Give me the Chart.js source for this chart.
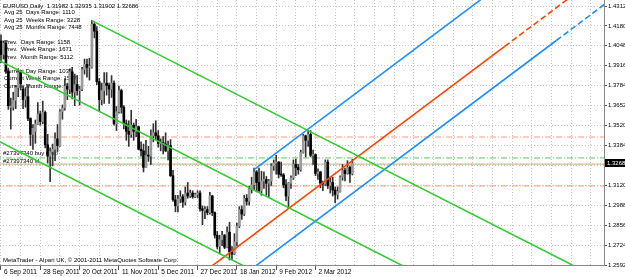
<!DOCTYPE html>
<html lang="en">
<head>
<meta charset="UTF-8">
<title>EURUSD Daily</title>
<script src="https://cdn.jsdelivr.net/npm/chart.js"></script>
<style>
  html, body { margin: 0; padding: 0; background: #fff; }
  #chart { display: block; }
</style>
</head>
<body>
<canvas id="chart" width="625" height="277"></canvas>
<script>
// one bar per trading day, bar 0 = 6 Sep 2011, last bar = 23 Mar 2012
const opens = [
  1.4080, 1.3990, 1.4065, 1.3880, 1.3640, 1.3640, 1.3685, 1.3770, 1.3870, 1.3760,
  1.3690, 1.3710, 1.3565, 1.3460, 1.3480, 1.3530, 1.3595, 1.3545, 1.3605, 1.3390,
  1.3315, 1.3345, 1.3360, 1.3430, 1.3385, 1.3610, 1.3635, 1.3780, 1.3760, 1.3875,
  1.3740, 1.3790, 1.3750, 1.3760, 1.3890, 1.3925, 1.3905, 1.3905, 1.4190, 1.4145,
  1.3810, 1.3690, 1.3750, 1.3800, 1.3785, 1.3760, 1.3800, 1.3530, 1.3610, 1.3750,
  1.3640, 1.3530, 1.3480, 1.3460, 1.3520, 1.3480, 1.3510, 1.3360, 1.3350, 1.3240,
  1.3320, 1.3315, 1.3450, 1.3470, 1.3450, 1.3400, 1.3405, 1.3395, 1.3350, 1.3385,
  1.3185, 1.3025, 1.2985, 1.3030, 1.3045, 1.3010, 1.3070, 1.3050, 1.3070, 1.3045,
  1.3060, 1.3070, 1.2965, 1.2955, 1.2960, 1.2940, 1.3050, 1.2940, 1.2790, 1.2715,
  1.2760, 1.2790, 1.2710, 1.2810, 1.2680, 1.2665, 1.2745, 1.2850, 1.2960, 1.2930,
  1.3035, 1.3015, 1.3095, 1.3125, 1.3210, 1.3140, 1.3085, 1.3150, 1.3160, 1.3135,
  1.3150, 1.3250, 1.3270, 1.3275, 1.3195, 1.3190, 1.3125, 1.3050, 1.3135, 1.3170,
  1.3260, 1.3240, 1.3225, 1.3340, 1.3450, 1.3420, 1.3460, 1.3320, 1.3325, 1.3200,
  1.3210, 1.3135, 1.3130, 1.3275, 1.3120, 1.3140, 1.3090, 1.3060, 1.3080, 1.3175,
  1.3220, 1.3200, 1.3240, 1.3198
];
const highs = [
  1.4120, 1.4080, 1.4080, 1.3900, 1.3700, 1.3740, 1.3785, 1.3895, 1.3885, 1.3780,
  1.3770, 1.3790, 1.3570, 1.3525, 1.3555, 1.3670, 1.3615, 1.3680, 1.3615, 1.3460,
  1.3370, 1.3395, 1.3470, 1.3525, 1.3625, 1.3655, 1.3830, 1.3800, 1.3895, 1.3905,
  1.3860, 1.3850, 1.3780, 1.3905, 1.3960, 1.3960, 1.3965, 1.4215, 1.4200, 1.4175,
  1.3830, 1.3800, 1.3870, 1.3870, 1.3800, 1.3850, 1.3815, 1.3645, 1.3780, 1.3760,
  1.3650, 1.3555, 1.3550, 1.3620, 1.3535, 1.3560, 1.3515, 1.3410, 1.3395, 1.3420,
  1.3380, 1.3490, 1.3530, 1.3550, 1.3485, 1.3430, 1.3445, 1.3470, 1.3415, 1.3425,
  1.3220, 1.3055, 1.3055, 1.3085, 1.3060, 1.3110, 1.3140, 1.3090, 1.3085, 1.3070,
  1.3085, 1.3085, 1.2985, 1.2980, 1.2980, 1.3075, 1.3055, 1.2945, 1.2815, 1.2790,
  1.2815, 1.2795, 1.2845, 1.2875, 1.2715, 1.2800, 1.2870, 1.2980, 1.2985, 1.3055,
  1.3060, 1.3115, 1.3175, 1.3235, 1.3220, 1.3235, 1.3215, 1.3210, 1.3180, 1.3160,
  1.3265, 1.3290, 1.3320, 1.3280, 1.3275, 1.3200, 1.3160, 1.3140, 1.3185, 1.3290,
  1.3295, 1.3260, 1.3355, 1.3460, 1.3455, 1.3485, 1.3485, 1.3355, 1.3330, 1.3230,
  1.3215, 1.3150, 1.3290, 1.3290, 1.3175, 1.3175, 1.3110, 1.3110, 1.3185, 1.3260,
  1.3235, 1.3285, 1.3250, 1.3294
];
const lows = [
  1.3935, 1.3960, 1.3865, 1.3625, 1.3495, 1.3620, 1.3630, 1.3710, 1.3755, 1.3630,
  1.3640, 1.3550, 1.3385, 1.3360, 1.3400, 1.3525, 1.3520, 1.3530, 1.3370, 1.3270,
  1.3145, 1.3250, 1.3285, 1.3345, 1.3380, 1.3560, 1.3620, 1.3690, 1.3730, 1.3695,
  1.3650, 1.3720, 1.3655, 1.3750, 1.3860, 1.3840, 1.3820, 1.3900, 1.4100, 1.3790,
  1.3610, 1.3655, 1.3665, 1.3720, 1.3665, 1.3705, 1.3520, 1.3485, 1.3600, 1.3600,
  1.3495, 1.3420, 1.3380, 1.3440, 1.3420, 1.3445, 1.3360, 1.3315, 1.3210, 1.3240,
  1.3280, 1.3260, 1.3410, 1.3425, 1.3375, 1.3350, 1.3330, 1.3345, 1.3290, 1.3180,
  1.3015, 1.2945, 1.2945, 1.3005, 1.2975, 1.2990, 1.3035, 1.3040, 1.3035, 1.3040,
  1.3040, 1.2950, 1.2860, 1.2900, 1.2925, 1.2930, 1.2920, 1.2770, 1.2700, 1.2665,
  1.2720, 1.2700, 1.2705, 1.2625, 1.2625, 1.2660, 1.2720, 1.2840, 1.2895, 1.2920,
  1.2990, 1.2990, 1.3070, 1.3090, 1.3080, 1.3075, 1.3055, 1.3100, 1.3055, 1.3045,
  1.3120, 1.3220, 1.3195, 1.3170, 1.3180, 1.3105, 1.3020, 1.2975, 1.3100, 1.3160,
  1.3185, 1.3195, 1.3215, 1.3335, 1.3310, 1.3380, 1.3310, 1.3260, 1.3185, 1.3160,
  1.3105, 1.3085, 1.3120, 1.3100, 1.3070, 1.3050, 1.3005, 1.3030, 1.3075, 1.3155,
  1.3150, 1.3195, 1.3140, 1.3190
];
const closes = [
  1.3990, 1.4065, 1.3880, 1.3650, 1.3640, 1.3685, 1.3770, 1.3870, 1.3795, 1.3690,
  1.3710, 1.3565, 1.3460, 1.3500, 1.3530, 1.3595, 1.3545, 1.3605, 1.3390, 1.3315,
  1.3345, 1.3360, 1.3430, 1.3385, 1.3610, 1.3635, 1.3780, 1.3760, 1.3875, 1.3740,
  1.3790, 1.3750, 1.3760, 1.3890, 1.3925, 1.3905, 1.3905, 1.4190, 1.4145, 1.3810,
  1.3690, 1.3750, 1.3800, 1.3785, 1.3760, 1.3800, 1.3530, 1.3610, 1.3750, 1.3640,
  1.3530, 1.3480, 1.3460, 1.3520, 1.3480, 1.3510, 1.3360, 1.3350, 1.3240, 1.3320,
  1.3315, 1.3450, 1.3470, 1.3450, 1.3400, 1.3405, 1.3395, 1.3350, 1.3385, 1.3185,
  1.3025, 1.2985, 1.3030, 1.3045, 1.3010, 1.3070, 1.3050, 1.3070, 1.3045, 1.3060,
  1.3070, 1.2965, 1.2955, 1.2960, 1.2940, 1.3050, 1.2940, 1.2790, 1.2715, 1.2760,
  1.2790, 1.2710, 1.2810, 1.2680, 1.2665, 1.2745, 1.2850, 1.2960, 1.2930, 1.3035,
  1.3015, 1.3095, 1.3125, 1.3210, 1.3140, 1.3085, 1.3150, 1.3160, 1.3135, 1.3150,
  1.3250, 1.3270, 1.3275, 1.3195, 1.3190, 1.3125, 1.3050, 1.3135, 1.3170, 1.3260,
  1.3240, 1.3225, 1.3340, 1.3450, 1.3420, 1.3460, 1.3320, 1.3325, 1.3200, 1.3210,
  1.3135, 1.3130, 1.3275, 1.3120, 1.3140, 1.3090, 1.3060, 1.3080, 1.3175, 1.3220,
  1.3200, 1.3240, 1.3198, 1.32686
];

// date labels, one every 16 bars starting at bar 0
const dateLabels = ['6 Sep 2011', '28 Sep 2011', '20 Oct 2011', '11 Nov 2011', '5 Dec 2011',
                    '27 Dec 2011', '18 Jan 2012', '9 Feb 2012', '2 Mar 2012'];
const priceTicks = ['1.43120', '1.41800', '1.40480', '1.39160', '1.37840', '1.36520', '1.35200',
                    '1.33840', '1.32520', '1.31200', '1.29880', '1.28560', '1.27240', '1.25920'];

const headerText = 'EURUSD,Daily  1.31982 1.32935 1.31902 1.32686';
const infoText = [
  'Avg 25  Days Range: 1110', 'Avg 25  Weeks Range: 3228', 'Avg 25  Months Range: 7448',
  'Prev.  Days Range: 1158', 'Prev.  Week Range: 1671', 'Prev.  Month Range: 5112',
  'Current Day Range: 1033', 'Current Week Range: 1577', 'Current Month Range: 2584'
];
const orderText = ['#27397340 buy 0.0p', '#27397340 sl'];
const footerText = 'MetaTrader - Alpari UK, \u00a9 2001-2011 MetaQuotes Software Corp.';

// trend lines as [bar, price] end points
const greenUpper = [[37, 1.4215], [252, 1.2430]];
const greenMiddle = [[-3, 1.3969], [170, 1.2533]];
const greenLower = [[-3, 1.3431], [110, 1.2493]];
const blueUpper = [[103, 1.3225], [210, 1.4535]];
const blueLower = [[100, 1.2541], [226, 1.4083]];
const blueLowerExt = [[226, 1.4083], [250, 1.4377]];
const redLine = [[80, 1.2514], [205, 1.4044]];
const redLineExt = [[205, 1.4044], [240, 1.4472]];

// horizontal levels
const salmonLevels = [1.3442, 1.3262, 1.3117];
const greenLevels = [1.3303, 1.3262];

const lastBar = closes.length - 1;
const xMin = -0.4, xMax = 245.4;

const toPts = seg => seg.map(p => ({x: p[0], y: p[1]}));
const lineSet = (seg, color, dash, order) => ({
  type: 'line',
  data: toPts(seg),
  borderColor: color,
  borderWidth: 1.6,
  borderDash: dash || [],
  pointRadius: 0,
  tension: 0,
  order: order
});
const levelSet = (v, color, offset) => ({
  type: 'line',
  data: [{x: xMin - 2, y: v}, {x: xMax + 2, y: v}],
  borderColor: color,
  borderWidth: 1,
  borderDash: [6, 2, 1, 2],
  borderDashOffset: offset,
  pointRadius: 0,
  order: 6
});

const wicks = opens.map((o, i) => ({x: i, y: [lows[i], highs[i]]}));
const bodies = opens.map((o, i) => ({x: i, y: [Math.min(o, closes[i]), Math.max(o, closes[i])]}));
const bodyColors = opens.map((o, i) => closes[i] >= o ? '#9a9a9a' : '#000000');

const overlay = {
  id: 'overlay',
  beforeDatasetsDraw(chart) {
    const ctx = chart.ctx;
    ctx.save();
    ctx.fillStyle = '#000';
    ctx.textBaseline = 'middle';
    ctx.font = '6px "Liberation Sans Narrow", "Liberation Sans", sans-serif';
    ctx.fillText(headerText, 3, 6);
    const ys = [12.5, 20, 27.5, 42, 49.5, 57, 71, 78.5, 86];
    infoText.forEach((t, i) => ctx.fillText(t, 4, ys[i]));
    ctx.fillText(orderText[0], 3, 153);
    ctx.fillText(orderText[1], 3, 161);
    ctx.fillText(footerText, 3, 260);
    ctx.restore();
  },
  afterDraw(chart) {
    const ctx = chart.ctx;
    const y = chart.scales.y.getPixelForValue(closes[lastBar]);
    const x = chart.chartArea.right + 1;
    ctx.save();
    ctx.fillStyle = '#000';
    ctx.fillRect(x, Math.round(y) - 4, 625 - x, 8);
    ctx.fillStyle = '#fff';
    ctx.font = '6px "Liberation Sans", sans-serif';
    ctx.textBaseline = 'middle';
    ctx.fillText(closes[lastBar].toFixed(5), x + 2, Math.round(y));
    ctx.restore();
  }
};

Chart.defaults.font.family = '"Liberation Sans", Arial, sans-serif';
Chart.defaults.color = '#000';

new Chart(document.getElementById('chart'), {
  type: 'line',
  data: {
    datasets: [
      {
        type: 'bar',
        data: bodies,
        backgroundColor: bodyColors,
        borderWidth: 0,
        barThickness: 2,
        minBarLength: 1,
        grouped: false,
        order: 3
      },
      {
        type: 'bar',
        data: wicks,
        backgroundColor: '#333',
        borderWidth: 0,
        barThickness: 1,
        grouped: false,
        order: 4
      },
      lineSet(greenUpper, '#32cd32', null, 1),
      lineSet(greenMiddle, '#32cd32', null, 1),
      lineSet(greenLower, '#32cd32', null, 1),
      lineSet(blueUpper, '#1e90ff', null, 1),
      lineSet(blueLower, '#1e90ff', null, 1),
      lineSet(blueLowerExt, '#1e90ff', [6, 3], 1),
      lineSet(redLine, '#ff4500', null, 1),
      lineSet(redLineExt, '#ff4500', [6, 3], 1),
      levelSet(salmonLevels[0], '#fa9a78', 0),
      levelSet(salmonLevels[1], '#fa9a78', 0),
      levelSet(salmonLevels[2], '#fa9a78', 0),
      levelSet(greenLevels[0], '#62c462', 0),
      levelSet(greenLevels[1], '#8fd48f', 5)
    ]
  },
  options: {
    responsive: false,
    animation: false,
    devicePixelRatio: 1,
    layout: { padding: 0 },
    plugins: { legend: { display: false }, tooltip: { enabled: false } },
    scales: {
      x: {
        type: 'linear',
        min: xMin,
        max: xMax,
        offset: false,
        afterBuildTicks: axis => {
          const t = [];
          for (let v = 0; v <= 240; v += 8) t.push({value: v});
          axis.ticks = t;
        },
        afterFit: axis => {
          axis.height = 12;
          axis.paddingLeft = 0;
          axis.paddingRight = 0;
        },
        ticks: {
          autoSkip: false,
          maxRotation: 0,
          minRotation: 0,
          align: 'start',
          labelOffset: 3,
          padding: -2,
          font: { size: 6.5 },
          callback: v => (v % 16 === 0 && v / 16 < dateLabels.length) ? dateLabels[v / 16] : ''
        },
        grid: {
          offset: false,
          color: '#c4c4c4',
          tickLength: 5,
          tickColor: c => (c.tick && c.tick.value % 16 === 0 && c.tick.value <= 128) ? '#555' : 'rgba(0,0,0,0)'
        },
        border: { color: '#8a8a8a', width: 1, dash: [1, 2] }
      },
      y: {
        type: 'linear',
        position: 'right',
        min: 1.2592,
        max: 1.4352,
        afterBuildTicks: axis => {
          axis.ticks = priceTicks.map(s => ({value: parseFloat(s)}));
        },
        afterFit: axis => {
          axis.width = 21;
          axis.paddingTop = 0;
          axis.paddingBottom = 0;
        },
        ticks: {
          autoSkip: false,
          padding: 1,
          font: { size: 6 },
          callback: v => priceTicks.find(s => parseFloat(s) === v) || ''
        },
        grid: {
          color: '#c4c4c4',
          tickLength: 3,
          tickColor: '#555'
        },
        border: { color: '#8a8a8a', width: 1, dash: [1, 2] }
      }
    }
  },
  plugins: [overlay]
});
</script>
</body>
</html>
